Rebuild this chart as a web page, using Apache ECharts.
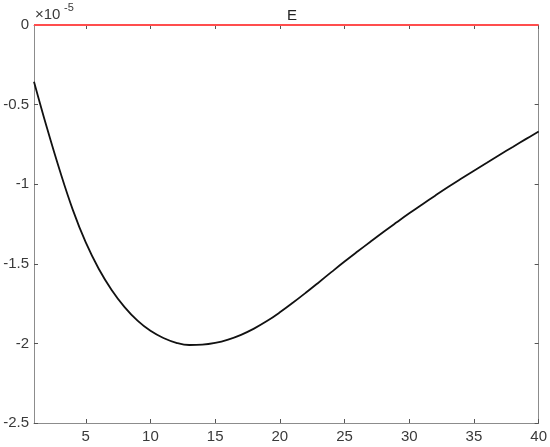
<!DOCTYPE html>
<html>
<head>
<meta charset="utf-8">
<script src="https://cdn.jsdelivr.net/npm/echarts@6/dist/echarts.min.js"></script>
<style>html,body{margin:0;padding:0;background:#fff;}#c{width:550px;height:447px;}</style>
</head>
<body>
<div id="c"></div>
<script>
// x positions
const xValues = [1,2,3,4,5,6,7,8,9,10,11,12,13,14,15,16,17,18,19,20,21,22,23,24,25,26,27,28,29,30,31,32,33,34,35,36,37,38,39,40];
// E values in units of 1e-5
const eValues = [-0.356,-0.646,-0.916,-1.161,-1.366,-1.531,-1.664,-1.772,-1.857,-1.921,-1.966,-1.996,-2.010,-2.008,-1.997,-1.976,-1.946,-1.907,-1.860,-1.805,-1.745,-1.682,-1.617,-1.551,-1.486,-1.423,-1.361,-1.300,-1.241,-1.183,-1.127,-1.072,-1.018,-0.966,-0.915,-0.865,-0.815,-0.766,-0.717,-0.669];
// reference line at zero
const zeroValues = [0,0,0,0,0,0,0,0,0,0,0,0,0,0,0,0,0,0,0,0,0,0,0,0,0,0,0,0,0,0,0,0,0,0,0,0,0,0,0,0];
const xTicks = [5,10,15,20,25,30,35,40];
const titleText = 'E';
const exponentBase = '×10';
const exponentText = '-5';

const font = 'Liberation Sans, Arial, sans-serif';
const axisColor = '#8c8c8c';
const tickColor = '#555555';
const labelColor = '#3a3a3a';

const chart = echarts.init(document.getElementById('c'), null, {renderer: 'canvas'});
chart.setOption({
  animation: false,
  backgroundColor: '#fff',
  title: {
    text: titleText, left: 287, top: 3, textAlign: 'center',
    textStyle: {fontFamily: font, fontSize: 15, fontWeight: 'normal', color: '#222'}
  },
  graphic: [{
    type: 'text', left: 35, top: 7,
    style: {text: exponentBase, fontFamily: font, fontSize: 15, fill: labelColor}
  }, {
    type: 'text', left: 64, top: 2,
    style: {text: exponentText, fontFamily: font, fontSize: 11, fill: labelColor}
  }],
  grid: {left: 34, right: 10, top: 25, bottom: 24, containLabel: false},
  xAxis: [{
    type: 'value', min: 1, max: 40, position: 'bottom',
    axisLine: {show: true, onZero: false, lineStyle: {color: axisColor, width: 1}},
    axisTick: {show: true, inside: true, length: 4, customValues: xTicks, lineStyle: {color: tickColor}},
    axisLabel: {show: true, customValues: xTicks, color: labelColor, fontFamily: font, fontSize: 15, margin: 6},
    splitLine: {show: false}
  }, {
    type: 'value', min: 1, max: 40, position: 'top',
    axisLine: {show: true, onZero: false, lineStyle: {color: axisColor, width: 1}},
    axisTick: {show: true, inside: true, length: 4, customValues: xTicks, lineStyle: {color: tickColor}},
    axisLabel: {show: false},
    splitLine: {show: false}
  }],
  yAxis: [{
    type: 'value', min: -2.5, max: 0, interval: 0.5, position: 'left',
    axisLine: {show: true, onZero: false, lineStyle: {color: axisColor, width: 1}},
    axisTick: {show: true, inside: true, length: 4, lineStyle: {color: tickColor}},
    axisLabel: {show: true, color: labelColor, fontFamily: font, fontSize: 15, margin: 5,
      formatter: v => String(Math.round(v * 10) / 10)},
    splitLine: {show: false}
  }, {
    type: 'value', min: -2.5, max: 0, interval: 0.5, position: 'right',
    axisLine: {show: true, onZero: false, lineStyle: {color: axisColor, width: 1}},
    axisTick: {show: true, inside: true, length: 4, lineStyle: {color: tickColor}},
    axisLabel: {show: false},
    splitLine: {show: false}
  }],
  series: [{
    type: 'line', xAxisIndex: 0, yAxisIndex: 0,
    data: xValues.map((x, i) => [x, eValues[i]]),
    smooth: 0.4, showSymbol: false, symbol: 'none',
    lineStyle: {color: '#111', width: 1.8}, z: 3
  }, {
    type: 'line', xAxisIndex: 0, yAxisIndex: 0,
    data: xValues.map((x, i) => [x, zeroValues[i]]),
    showSymbol: false, symbol: 'none',
    lineStyle: {color: '#ff4d4d', width: 2}, z: 4
  }]
});
</script>
</body>
</html>
